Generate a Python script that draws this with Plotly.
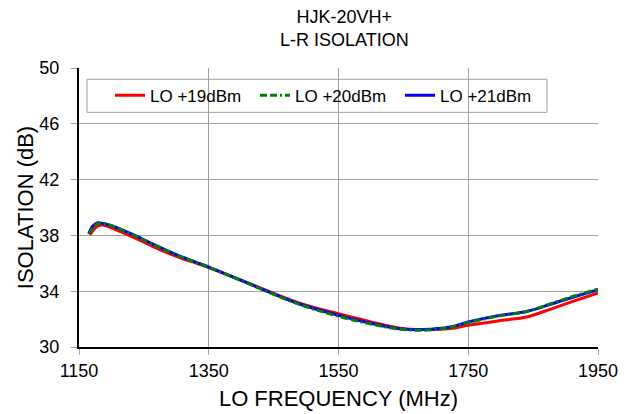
import plotly.graph_objects as go

# LO +19dBm
freq_19 = [1167, 1173, 1180, 1186, 1200, 1230, 1264, 1300, 1350, 1413, 1490, 1550, 1600, 1645, 1680, 1722, 1750, 1800, 1840, 1876, 1910, 1950]
iso_19 = [38.05, 38.45, 38.7, 38.75, 38.55, 37.95, 37.2, 36.5, 35.7, 34.55, 33.15, 32.38, 31.8, 31.35, 31.25, 31.32, 31.55, 31.9, 32.15, 32.7, 33.25, 33.87]

# LO +20dBm
freq_20 = [1166, 1172, 1179, 1186, 1200, 1230, 1264, 1300, 1350, 1413, 1490, 1550, 1600, 1645, 1680, 1722, 1750, 1800, 1840, 1876, 1910, 1950]
iso_20 = [38.1, 38.6, 38.85, 38.88, 38.7, 38.1, 37.35, 36.6, 35.73, 34.5, 33.05, 32.2, 31.65, 31.28, 31.2, 31.4, 31.75, 32.25, 32.55, 33.08, 33.6, 34.15]

# LO +21dBm
freq_21 = [1165, 1171, 1178, 1184, 1200, 1230, 1264, 1300, 1350, 1413, 1490, 1550, 1600, 1645, 1680, 1722, 1750, 1800, 1840, 1876, 1910, 1950]
iso_21 = [38.1, 38.65, 38.9, 38.88, 38.7, 38.12, 37.38, 36.62, 35.73, 34.52, 33.08, 32.27, 31.7, 31.3, 31.25, 31.43, 31.79, 32.27, 32.55, 33.05, 33.55, 34.11]

x_ticks = [1150, 1350, 1550, 1750, 1950]
y_ticks = [30, 34, 38, 42, 46, 50]

FONT = "Arial, Liberation Sans, sans-serif"

fig = go.Figure()
fig.add_trace(go.Scatter(x=freq_19, y=iso_19, mode="lines", name="LO +19dBm",
                         line=dict(color="#ff0000", width=3, shape="spline"), legendrank=1))
fig.add_trace(go.Scatter(x=freq_21, y=iso_21, mode="lines", name="LO +21dBm",
                         line=dict(color="#0000ff", width=3, shape="spline"), legendrank=3))
fig.add_trace(go.Scatter(x=freq_20, y=iso_20, mode="lines", name="LO +20dBm",
                         line=dict(color="#008000", width=3, shape="spline",
                                   dash="7px,3px,7px,3px,2px,3px"), legendrank=2))

fig.update_layout(
    width=626, height=406,
    margin=dict(l=71, r=36, t=60, b=67, autoexpand=False),
    paper_bgcolor="white", plot_bgcolor="white",
    font=dict(family=FONT, size=18, color="#000000"),
    showlegend=True,
    legend=dict(orientation="h", x=0.0597, y=0.9004, xanchor="left", yanchor="middle",
                borderwidth=0, bgcolor="rgba(0,0,0,0)",
                font=dict(size=17), entrywidth=100, entrywidthmode="pixels",
                tracegroupgap=0),
    shapes=[dict(type="rect", xref="paper", yref="paper", x0=0.0154, x1=0.9017, y0=0.841, y1=0.9595,
                 line=dict(color="#a0a0a0", width=1), fillcolor="white", layer="below")],
    annotations=[dict(text="HJK-20VH+<br>L-R ISOLATION", xref="paper", yref="paper",
                      x=0.5125, y=1.142, xanchor="center", yanchor="middle", showarrow=False,
                      font=dict(size=18))],
)
fig.update_xaxes(range=[1150, 1950], tickvals=x_ticks, showgrid=True, gridcolor="#a0a0a0", gridwidth=1,
                 showline=True, linecolor="#000000", linewidth=2, ticks="outside", ticklen=6,
                 tickcolor="#a0a0a0", zeroline=False, ticklabelstandoff=0, automargin=False,
                 layer="below traces",
                 title=dict(text="LO FREQUENCY (MHz)", standoff=11))
fig.update_yaxes(range=[30, 50], tickvals=y_ticks, showgrid=True, gridcolor="#a0a0a0", gridwidth=1,
                 showline=True, linecolor="#000000", linewidth=2, ticks="outside", ticklen=6,
                 tickcolor="#a0a0a0", zeroline=False, ticklabelstandoff=8, automargin=False,
                 layer="below traces",
                 title=dict(text="ISOLATION (dB)", standoff=0))

fig.write_html("out.html")
